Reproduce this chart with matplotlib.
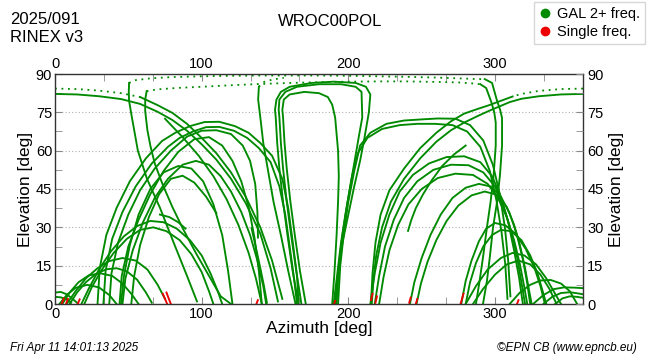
import matplotlib
matplotlib.use('Agg')
import matplotlib.pyplot as plt
from matplotlib.ticker import FixedLocator, MultipleLocator
from matplotlib.lines import Line2D

plt.rcParams['font.family'] = ['Liberation Sans', 'DejaVu Sans']

GREEN = '#008a00'
RED = '#ee0000'

# ---------------- data: azimuth [deg], elevation [deg] ----------------
# high near-horizontal tracks, left side
t1dot_az = [0, 15, 30, 45, 58]
t1dot_el = [84.3, 84.1, 83.5, 82.5, 81.0]
t1_az = [58, 70, 80, 90, 100, 110, 120, 130, 140, 148, 155]
t1_el = [81.0, 77.8, 74.8, 70.5, 65, 59, 51.5, 42, 30, 17, 2]
t2_az = [0, 15, 30, 45, 58, 70, 80, 90, 100, 110, 120, 130, 140, 147, 152]
t2_el = [82.2, 82, 81.3, 80.2, 78.3, 75.2, 72, 67.8, 62.5, 56.5, 49, 39.5, 27.5, 14, 1]

# near-zenith tracks, left
v1_az = [50.5, 50.3, 50.5, 52.5, 56.5, 62.7, 71.6, 80.5, 90, 96.8]
v1_el = [86.5, 83, 79.5, 72.8, 60, 49, 37.6, 24.6, 11, 1]
v2_az = [62.5, 61.5, 61.5, 63, 65, 68, 73.5, 80, 87, 96, 105, 113, 120]
v2_el = [83.3, 80, 75.5, 68, 62, 55, 46.6, 38, 29.7, 20, 11, 3, 0]

# dotted zenith band
d1_az = [50.5, 55, 65, 80, 100, 120, 140, 160, 180, 200, 220, 240, 260, 280, 288, 293]
d1_el = [86.5, 87.6, 88.3, 88.8, 89.1, 89.3, 89.4, 89.4, 89.4, 89.3, 89.1, 88.9, 88.6, 88.2, 88.0, 88.0]
d2_az = [62.5, 70, 85, 100, 120, 140, 160, 180, 200, 220, 240, 260, 275, 285, 290]
d2_el = [83.3, 84.0, 84.6, 85.0, 85.6, 86.1, 86.5, 86.8, 87.0, 87.1, 87.1, 86.9, 86.7, 86.3, 86.0]
latop_az = [139, 142, 148, 156]
latop_el = [85, 86.8, 87.8, 88.5]

# central near-vertical tracks
la_az = [164, 159, 154, 149, 145, 142, 140, 138.5, 139]
la_el = [0, 13, 27, 40, 53, 63, 73, 80, 85]
lb_az = [166, 162, 158.5, 155.5, 153, 151.5, 150.5, 150, 151, 154, 160, 175, 190, 205, 212, 215, 214, 211, 208, 204, 200, 196, 193, 191]
lb_el = [0, 13, 27, 40, 53, 63, 73, 76, 80, 83, 85, 86.5, 87, 86.5, 85, 82, 75, 65, 56, 46, 35, 24, 12, 0]
lc_az = [168, 164.5, 161, 158, 155.5, 154, 153, 152.5, 153, 157, 165, 180, 195, 205, 209, 209.5, 207, 204, 201, 198, 195, 192.5, 190]
lc_el = [0, 13, 27, 40, 53, 63, 73, 76, 80, 83, 85, 86, 86, 85, 83, 73, 65, 55, 45, 35, 24, 12, 0]
ld_az = [171, 167, 163.5, 160.5, 158, 156.5, 155.5, 155, 156, 160, 170, 180, 186, 189, 191, 193, 193.5, 193, 192, 190.5, 189]
ld_el = [0, 13, 27, 40, 53, 63, 73, 76, 80, 82, 83, 82.5, 81, 78, 73, 60, 50, 40, 27, 12, 0]

# left arches
a1_az = [29, 30.5, 35, 42, 51, 62, 73, 82, 92, 102, 112, 122.7, 132, 140, 148, 155, 159, 162, 165, 166]
a1_el = [0, 14, 27, 37.6, 48, 57, 63.8, 67, 69.6, 71.2, 71.3, 69.6, 67, 63, 58, 49, 37.6, 24.6, 11, 1]
a2_az = [33, 34.5, 39, 46, 55, 66, 77, 85, 94, 103, 112, 122, 131, 139, 147, 153, 157, 160, 163, 165]
a2_el = [0, 13, 25.5, 36, 46, 55, 61.5, 65, 67.5, 69.2, 69.3, 67.8, 65, 61, 55.5, 46, 35, 22.5, 10, 0]
a3_az = [37, 38.5, 43, 50, 58, 68, 79, 90, 100, 110, 120, 128, 133, 136.5, 138, 138.4]
a3_el = [0, 12, 24, 35, 44.5, 53, 60, 65.5, 67.8, 68, 66.5, 62, 56, 47, 36, 26]
a4_az = [44, 45.5, 50, 57, 65, 74, 84, 95, 105, 114, 121, 127, 132, 136, 139, 141]
a4_el = [0, 11, 22.5, 33, 43, 52, 59.5, 64.5, 65.3, 62, 56, 48, 38, 26, 13, 0]
a5_az = [46, 48, 53, 60, 68, 77, 87, 96, 105, 113, 120, 127, 133, 138, 142, 144]
a5_el = [0, 10, 21, 32, 41.5, 49, 54.5, 56, 54.5, 50, 44, 36, 27, 17, 7, 0]
a6_az = [45, 47, 51, 57, 65, 74, 84, 93, 101, 108, 114, 118, 121]
a6_el = [0, 11, 23, 35, 45, 51.5, 54, 53, 48, 39, 27, 13, 0]
a7_az = [52, 54, 58, 64, 71, 79, 87, 95, 103, 110]
a7_el = [0, 11, 23, 34, 43, 49, 50.2, 47.5, 42, 35.6]
a8_az = [18, 23, 30, 38, 47, 56, 65, 74, 83, 92, 100, 106, 111, 114]
a8_el = [0, 6, 13.5, 20.5, 26.5, 30.5, 32.5, 32, 29.5, 25, 19, 12, 5, 0]
a9_az = [20, 25, 32, 40, 49, 58, 67, 76, 85, 93, 100, 105, 108]
a9_el = [0, 6.5, 13.5, 20, 25.5, 29, 30, 28.5, 25, 19.5, 12.5, 5, 0]
a10_az = [8, 14, 21, 29, 37, 46, 55, 63, 70, 75]
a10_el = [0, 5, 10, 14, 16.8, 18, 17, 13.5, 7.5, 2]
a11_az = [10, 15, 21, 28, 35, 42, 49, 56, 62, 66]
a11_el = [0, 4.5, 8.5, 11.8, 13.6, 14, 12.8, 9.5, 4.5, 0.5]
a12_az = [5, 10, 16, 23, 31, 39, 46, 52, 57]
a12_el = [0, 4.5, 8.5, 11.2, 12, 11, 8, 4, 0]
a13_az = [3, 8, 14, 22, 30, 37, 42]
a13_el = [0, 3.5, 6.3, 7.5, 6.5, 3.5, 0]
a14_az = [0, 4, 8, 12, 15]
a14_el = [4.5, 4.7, 3.8, 2, 0.5]
a15_az = [0, 4, 8, 11]
a15_el = [2.8, 2.6, 1.8, 0.5]
s1_az = [75, 87, 98, 108, 117, 125, 132, 137, 141]
s1_el = [72.5, 65.3, 58, 50, 41, 31, 20, 10, 0]
s2_az = [71.5, 78, 84, 89]
s2_el = [35, 34, 32, 29.5]
s3_az = [134, 137, 140, 142.5, 144.5]
s3_el = [29.7, 22, 14, 7, 0.5]

# high near-horizontal tracks, right side
t3dot_az = [360, 345, 330, 318, 312]
t3dot_el = [84.3, 84.1, 83.4, 82.2, 81.2]
t3_az = [312, 303, 296, 288, 279, 270, 260, 249, 238, 228, 222, 218.5, 216.5, 215.5]
t3_el = [81.2, 79.3, 77.8, 76.3, 74.5, 71.5, 67, 61, 53, 44.5, 35, 24, 12, 1]
t4_az = [360, 345, 330, 318, 310, 303, 296, 288, 279, 270, 260, 249, 238, 229, 223, 219, 217, 216]
t4_el = [82.2, 82, 81.3, 80.3, 79, 77.3, 75.6, 73.5, 71, 68, 63.5, 57, 49, 40, 30, 19, 9, 0]

# near-zenith tracks, right
w1_az = [293, 298, 301.4, 303.5, 304.8, 304.8, 303.4, 301.4, 298.6, 296.6, 294.5, 291.8]
w1_el = [88, 86.5, 79.5, 76, 72.8, 62, 50.5, 40, 29.7, 19, 9, 0]
w2_az = [290, 294, 297.5, 299.5, 300.5, 300.5, 299, 297, 294.5, 292, 289.5, 287]
w2_el = [86, 84.5, 79, 75, 71, 62, 50, 40, 30, 19, 9, 0]

# right arches
b1_az = [193, 194.5, 197, 200, 204, 208, 215, 226, 238, 249, 261, 273, 283, 292, 298.6, 303.4, 306.8, 309, 310.5]
b1_el = [0, 15, 28, 40, 52, 62, 67, 70.5, 71.8, 72.2, 72.6, 72.5, 70, 64, 54.4, 42.6, 29.7, 16.8, 3]
b2_az = [192, 193.5, 196, 199, 202.5, 206.5, 213, 223, 235, 247, 259, 271, 281, 290, 296.5, 301, 304.5, 307, 308.5]
b2_el = [0, 14.5, 27, 38.5, 50, 59, 65, 68.5, 70, 70.5, 70.5, 70, 67.5, 61.5, 52, 40.5, 28, 15.5, 2]
b3_az = [280, 272, 264, 257, 251, 246, 243, 240.7]
b3_el = [62, 58.5, 54, 48.5, 43, 37.5, 33, 28.6]
b5_az = [215, 218, 222, 228, 235, 244, 255, 267, 279, 290, 298, 304, 309, 313, 316.5, 319]
b5_el = [0, 12, 24, 35, 44, 50.5, 55, 57.5, 57.8, 55.5, 50, 42, 32, 21, 10, 0]
b6_az = [218, 221, 225, 231, 238, 247, 258, 270, 282, 292, 300, 306, 311, 315, 318, 320.5]
b6_el = [0, 11, 22.5, 33, 41.5, 48, 52.5, 54.5, 54.3, 51.5, 46, 38, 28.5, 18.5, 8.5, 0]
b7_az = [221, 224, 228, 234, 241, 250, 261, 273, 285, 295, 302, 308, 313, 317, 320, 322]
b7_el = [0, 10.5, 21, 31, 39, 45, 49.3, 51, 50.5, 47, 41.5, 34, 25, 15.5, 6.5, 0]
b8_az = [242, 245, 250, 256, 263, 271, 280, 289, 297, 304, 310, 315, 319, 322, 324]
b8_el = [0, 8.5, 18, 27, 35, 41.5, 45.5, 47, 46, 42, 35.5, 27, 17.5, 8, 0]
b9_az = [246.5, 249.5, 254, 260, 267, 275, 284, 293, 301, 308, 313, 317, 320.5, 323, 325]
b9_el = [0, 8, 16.5, 25, 32.5, 38.5, 42.5, 44, 42.8, 38, 31, 23, 14, 6, 0]
b10_az = [277, 280, 284, 289, 294, 300, 307, 314, 321, 327, 331, 334]
b10_el = [0, 9, 17, 24.5, 29.5, 31.7, 30.8, 27.5, 21.5, 14, 7, 0]
b11_az = [280, 283, 287, 292, 298, 304, 311, 318, 324, 329, 332.5, 335]
b11_el = [0, 8.5, 16, 22.5, 27, 29, 28.5, 25, 19, 12, 5, 0]
b12_az = [280, 287, 295, 304, 312, 320, 328, 335, 341, 345]
b12_el = [0, 7, 13.5, 18, 20, 19, 15.5, 10, 4, 0]
b13_az = [285, 292, 300, 308, 316, 324, 331, 337, 342]
b13_el = [0, 6, 11.5, 15.5, 17, 15.5, 11.5, 6, 0]
b14_az = [310, 317, 324, 331, 338, 345, 351, 356]
b14_el = [0, 4.5, 7.5, 9.2, 9.4, 8, 5, 0]
b15_az = [326, 333, 340, 347, 354, 360]
b15_el = [0, 3.5, 5.8, 6.5, 6.4, 6.2]
b16_az = [333, 339, 345, 351, 356, 360]
b16_el = [0, 2.8, 4.3, 4.6, 4.2, 3.8]
b17_az = [341, 346, 351, 356, 360]
b17_el = [0, 2.2, 3, 2.8, 2.4]

# single-frequency segments
r1_az, r1_el = [4.5, 6.0], [0, 2.2]
r2_az, r2_el = [7.5, 8.8], [0, 2.0]
r3_az, r3_el = [15.5, 16.8], [0, 1.8]
r4_az, r4_el = [73.5, 75, 76.5], [4, 2, 0]
r5_az, r5_el = [76, 77.5, 79], [4.5, 2.2, 0]
r6_az, r6_el = [137.3, 138.3], [0, 1.5]
r7_az, r7_el = [190.3, 191], [0, 1.2]
r8_az, r8_el = [215.5, 216.5], [1.5, 4]
r9_az, r9_el = [218.5, 219.5], [0.5, 3]
r10_az, r10_el = [241.5, 242.5], [0.5, 2.5]
r11_az, r11_el = [246, 247], [0, 2]
r12_az, r12_el = [276.5, 278.5], [0, 4]
r13_az, r13_el = [315, 316], [0, 1.5]

x_major = [0, 100, 200, 300]
y_major = [0, 15, 30, 45, 60, 75, 90]

solid_tracks = [
    (t1_az, t1_el), (t2_az, t2_el), (v1_az, v1_el), (v2_az, v2_el),
    (la_az, la_el), (lb_az, lb_el), (lc_az, lc_el), (ld_az, ld_el),
    (a1_az, a1_el), (a2_az, a2_el), (a3_az, a3_el), (a4_az, a4_el),
    (a5_az, a5_el), (a6_az, a6_el), (a7_az, a7_el), (a8_az, a8_el),
    (a9_az, a9_el), (a10_az, a10_el), (a11_az, a11_el), (a12_az, a12_el),
    (a13_az, a13_el), (a14_az, a14_el), (a15_az, a15_el),
    (s1_az, s1_el), (s2_az, s2_el), (s3_az, s3_el),
    (t3_az, t3_el), (t4_az, t4_el), (w1_az, w1_el), (w2_az, w2_el),
    (b1_az, b1_el), (b2_az, b2_el), (b3_az, b3_el), (b5_az, b5_el),
    (b6_az, b6_el), (b7_az, b7_el), (b8_az, b8_el), (b9_az, b9_el),
    (b10_az, b10_el), (b11_az, b11_el), (b12_az, b12_el), (b13_az, b13_el),
    (b14_az, b14_el), (b15_az, b15_el), (b16_az, b16_el), (b17_az, b17_el),
]
dotted_tracks = [
    (t1dot_az, t1dot_el), (t3dot_az, t3dot_el), (d1_az, d1_el),
    (d2_az, d2_el), (latop_az, latop_el),
]
red_tracks = [
    (r1_az, r1_el), (r2_az, r2_el), (r3_az, r3_el), (r4_az, r4_el),
    (r5_az, r5_el), (r6_az, r6_el), (r7_az, r7_el), (r8_az, r8_el),
    (r9_az, r9_el), (r10_az, r10_el), (r11_az, r11_el), (r12_az, r12_el),
    (r13_az, r13_el),
]

# ---------------- figure ----------------
fig = plt.figure(figsize=(6.5, 3.6), dpi=100)
ax = fig.add_axes([55 / 650, 1 - 304 / 360, 528 / 650, 230 / 360])

for az, el in solid_tracks:
    ax.plot(az, el, color=GREEN, lw=1.35, solid_joinstyle='round')
for az, el in dotted_tracks:
    ax.plot(az, el, color=GREEN, lw=1.3, linestyle=(0, (1.0, 2.6)))
for az, el in red_tracks:
    ax.plot(az, el, color=RED, lw=1.35)

ax.set_xlim(0, 360)
ax.set_ylim(0, 90)
ax.xaxis.set_major_locator(FixedLocator(x_major))
ax.xaxis.set_minor_locator(MultipleLocator(100 / 3))
ax.yaxis.set_major_locator(FixedLocator(y_major))
ax.yaxis.set_minor_locator(MultipleLocator(7.5))
ax.grid(axis='y', which='major', color='#b0b0b0', lw=0.8, linestyle=(0, (1, 2)))
ax.tick_params(which='both', direction='in', length=5, color='#888888',
               top=True, right=False, labeltop=True, labelsize=10.5, pad=2)
for sp in ax.spines.values():
    sp.set_color('#333333')
    sp.set_linewidth(1.0)
ax.set_xlabel('Azimuth [deg]', fontsize=12.5, labelpad=0)
ax.set_ylabel('Elevation [deg]', fontsize=12.5, labelpad=2)

ax2 = ax.twinx()
ax2.set_ylim(0, 90)
ax2.yaxis.set_major_locator(FixedLocator(y_major))
ax2.yaxis.set_minor_locator(MultipleLocator(7.5))
ax2.tick_params(which='both', direction='in', length=5, color='#888888',
                labelsize=10.5, pad=3)
ax2.set_ylabel('Elevation [deg]', fontsize=12.5, labelpad=4)
for sp in ax2.spines.values():
    sp.set_visible(False)

fig.text(10 / 650, 1 - 20 / 360, '2025/091', fontsize=12, va='center')
fig.text(10 / 650, 1 - 37 / 360, 'RINEX v3', fontsize=12, va='center')
fig.text(330 / 650, 1 - 22 / 360, 'WROC00POL', fontsize=12, ha='center', va='center')
fig.text(10 / 650, 1 - 348 / 360, 'Fri Apr 11 14:01:13 2025', fontsize=8.5,
         style='italic', va='center')
fig.text(637 / 650, 1 - 348 / 360, '\u00a9EPN CB (www.epncb.eu)', fontsize=8.5,
         style='italic', va='center', ha='right')

handles = [Line2D([], [], marker='o', ls='none', color=GREEN, markersize=6),
           Line2D([], [], marker='o', ls='none', color=RED, markersize=6)]
fig.legend(handles, ['GAL 2+ freq.', 'Single freq.'], loc='upper right',
           bbox_to_anchor=(645 / 650, 1 - 2 / 360), fontsize=10.5, frameon=True,
           fancybox=False, edgecolor='#cccccc', handlelength=0.8,
           handletextpad=0.4, borderpad=0.35, labelspacing=0.25, borderaxespad=0)

fig.savefig('out.png', dpi=100)
